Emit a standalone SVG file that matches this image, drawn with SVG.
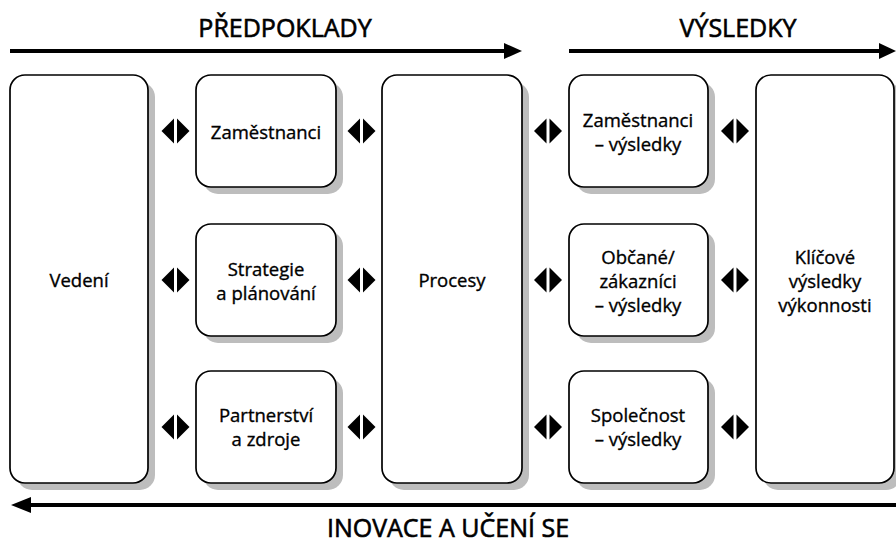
<svg xmlns="http://www.w3.org/2000/svg" width="896" height="544" viewBox="0 0 896 544">
<defs>
<style>
.box{fill:#fff;stroke:#000;stroke-width:1.7}
.sh{fill:#bdbdbd}
.t{font-family:"Open Sans","Noto Sans",sans-serif;font-size:18.5px;font-weight:400;fill:#000;stroke:#000;stroke-width:0.35;text-anchor:middle;dominant-baseline:central}
.h{font-family:"Open Sans","Noto Sans",sans-serif;font-size:25px;font-weight:400;fill:#000;stroke:#000;stroke-width:0.6;text-anchor:middle}
.ln{stroke:#000;stroke-width:4;fill:none}
.ah{fill:#000}
</style>
<g id="dbl">
<polygon class="ah" points="-1.5,-12.5 -1.5,12.5 -14,0"/>
<polygon class="ah" points="1.5,-12.5 1.5,12.5 14,0"/>
</g>
</defs>
<g id="connectors">
<line class="ln" x1="10" y1="51" x2="507" y2="51"/>
<polygon class="ah" points="504,43 522,51 504,59"/>
<line class="ln" x1="569" y1="51" x2="882" y2="51"/>
<polygon class="ah" points="879,43 896,51 879,59"/>
<line class="ln" x1="28" y1="505" x2="896" y2="505"/>
<polygon class="ah" points="31,497 11,505 31,513"/>
<use href="#dbl" x="175.5" y="131"/>
<use href="#dbl" x="361.5" y="131"/>
<use href="#dbl" x="548" y="131"/>
<use href="#dbl" x="735" y="131"/>
<use href="#dbl" x="175.5" y="280"/>
<use href="#dbl" x="361.5" y="280"/>
<use href="#dbl" x="548" y="280"/>
<use href="#dbl" x="735" y="280"/>
<use href="#dbl" x="175.5" y="427"/>
<use href="#dbl" x="361.5" y="427"/>
<use href="#dbl" x="548" y="427"/>
<use href="#dbl" x="735" y="427"/>
</g>
<g id="labels">
<text class="h" x="285" y="37">PŘEDPOKLADY</text>
<text class="h" x="738" y="37">VÝSLEDKY</text>
<text class="h" x="448" y="537">INOVACE A UČENÍ SE</text>
</g>
<g id="vedeni">
<rect class="sh" x="17" y="82" width="138" height="408" rx="15"/>
<rect class="box" x="10" y="75" width="138" height="408" rx="15"/>
<text class="t" x="79" y="279">Vedení</text>
</g>
<g id="zamestnanci">
<rect class="sh" x="203" y="82" width="140" height="112" rx="15"/>
<rect class="box" x="196" y="75" width="140" height="112" rx="15"/>
<text class="t" x="266" y="131">Zaměstnanci</text>
</g>
<g id="strategie">
<rect class="sh" x="203" y="231" width="140" height="112" rx="15"/>
<rect class="box" x="196" y="224" width="140" height="112" rx="15"/>
<text class="t" x="266" y="268">Strategie</text>
<text class="t" x="266" y="292">a plánování</text>
</g>
<g id="partnerstvi">
<rect class="sh" x="203" y="378" width="140" height="112" rx="15"/>
<rect class="box" x="196" y="371" width="140" height="112" rx="15"/>
<text class="t" x="266" y="414">Partnerství</text>
<text class="t" x="266" y="438">a zdroje</text>
</g>
<g id="procesy">
<rect class="sh" x="389" y="82" width="140" height="408" rx="15"/>
<rect class="box" x="382" y="75" width="140" height="408" rx="15"/>
<text class="t" x="452" y="279">Procesy</text>
</g>
<g id="zam-vysledky">
<rect class="sh" x="576" y="82" width="139" height="112" rx="15"/>
<rect class="box" x="569" y="75" width="139" height="112" rx="15"/>
<text class="t" x="638" y="119">Zaměstnanci</text>
<text class="t" x="638" y="143">– výsledky</text>
</g>
<g id="obcane-vysledky">
<rect class="sh" x="576" y="231" width="139" height="112" rx="15"/>
<rect class="box" x="569" y="224" width="139" height="112" rx="15"/>
<text class="t" x="638" y="256">Občané/</text>
<text class="t" x="638" y="280">zákazníci</text>
<text class="t" x="638" y="304">– výsledky</text>
</g>
<g id="spolecnost-vysledky">
<rect class="sh" x="576" y="378" width="139" height="112" rx="15"/>
<rect class="box" x="569" y="371" width="139" height="112" rx="15"/>
<text class="t" x="638" y="414">Společnost</text>
<text class="t" x="638" y="438">– výsledky</text>
</g>
<g id="klicove">
<rect class="sh" x="763" y="82" width="138" height="408" rx="15"/>
<rect class="box" x="756" y="75" width="138" height="408" rx="15"/>
<text class="t" x="825" y="256">Klíčové</text>
<text class="t" x="825" y="280">výsledky</text>
<text class="t" x="825" y="304">výkonnosti</text>
</g>
</svg>
